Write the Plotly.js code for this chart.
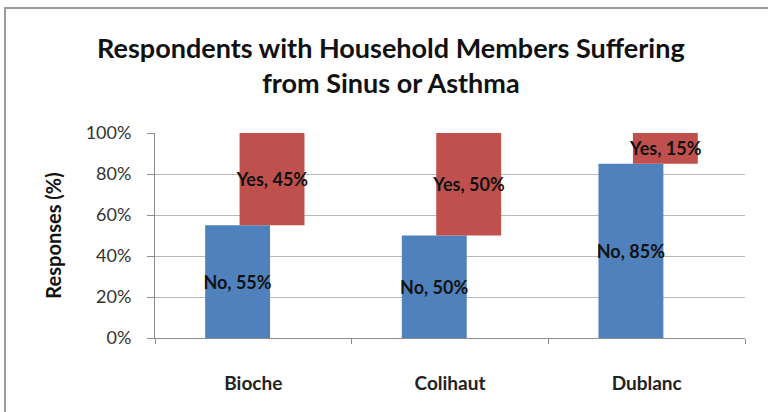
<!DOCTYPE html>
<html>
<head>
<meta charset="utf-8">
<script src="https://cdn.plot.ly/plotly-3.0.1.min.js"></script>
<style>
  html, body { margin: 0; padding: 0; background: #fff; }
  #wrap { position: relative; width: 768px; height: 412px; }
  #chart { width: 768px; height: 412px; }
  #frame { position: absolute; left: 4px; top: 7px; right: -2px; bottom: -2px;
           border-left: 2px solid #9a9a9a; border-top: 2px solid #9a9a9a; pointer-events: none; }
</style>
</head>
<body>
<div id="wrap">
  <div id="chart"></div>
  <div id="frame"></div>
</div>
<script>
const categories = ["Bioche", "Colihaut", "Dublanc"];
const noValues = [55, 50, 85];
const yesValues = [45, 50, 15];
const yTicks = [0, 20, 40, 60, 80, 100];

const FONT = "Lato, 'Open Sans', sans-serif";
const labelFont = { family: FONT, size: 18, color: "#111", weight: "bold" };

const traceNo = {
  type: "bar",
  name: "No",
  x: categories,
  y: noValues,
  width: 0.33,
  offset: -0.245,
  marker: { color: "#4F81BD" },
  text: noValues.map(v => "No, " + v + "%"),
  textposition: "inside",
  insidetextanchor: "middle",
  constraintext: "none",
  textangle: 0,
  textfont: labelFont,
  insidetextfont: labelFont,
  cliponaxis: false,
  hoverinfo: "skip"
};

const traceYes = {
  type: "bar",
  name: "Yes",
  x: categories,
  y: yesValues,
  base: noValues,
  width: 0.33,
  offset: -0.07,
  marker: { color: "#C0504D" },
  text: yesValues.map(v => "Yes, " + v + "%"),
  textposition: "inside",
  insidetextanchor: "middle",
  constraintext: "none",
  textangle: 0,
  textfont: labelFont,
  insidetextfont: labelFont,
  cliponaxis: false,
  hoverinfo: "skip"
};

const layout = {
  width: 768,
  height: 412,
  margin: { l: 155, r: 23, t: 133, b: 74 },
  paper_bgcolor: "#ffffff",
  plot_bgcolor: "#ffffff",
  barmode: "overlay",
  showlegend: false,
  font: { family: FONT, color: "#222" },
  title: {
    text: "Respondents with Household Members Suffering<br>from Sinus or Asthma",
    font: { family: FONT, size: 27, color: "#111", weight: "bold" },
    x: 0.509,
    xref: "container",
    xanchor: "center",
    y: 0.859,
    yref: "container",
    yanchor: "middle"
  },
  xaxis: {
    type: "category",
    showgrid: false,
    showline: true,
    linecolor: "#8c8c8c",
    linewidth: 1,
    ticks: "outside",
    tickson: "boundaries",
    ticklen: 5,
    tickcolor: "#8c8c8c",
    ticklabelstandoff: 28,
    tickfont: { family: FONT, size: 19, color: "#222", weight: "bold" },
    range: [-0.5, 2.5],
    fixedrange: true
  },
  yaxis: {
    range: [0, 100],
    tickvals: yTicks,
    ticktext: yTicks.map(v => v + "%"),
    showgrid: true,
    gridcolor: "#b8b8b8",
    gridwidth: 1,
    showline: true,
    linecolor: "#8c8c8c",
    linewidth: 1,
    ticks: "outside",
    ticklen: 7,
    tickcolor: "#8c8c8c",
    ticklabelstandoff: 12,
    zeroline: false,
    tickfont: { family: FONT, size: 18, color: "#333" },
    title: {
      text: "Responses (%)",
      font: { family: FONT, size: 20, color: "#111", weight: "bold" },
      standoff: 18
    },
    fixedrange: true
  }
};

Plotly.newPlot("chart", [traceNo, traceYes], layout, { staticPlot: true, displayModeBar: false });
</script>
</body>
</html>
